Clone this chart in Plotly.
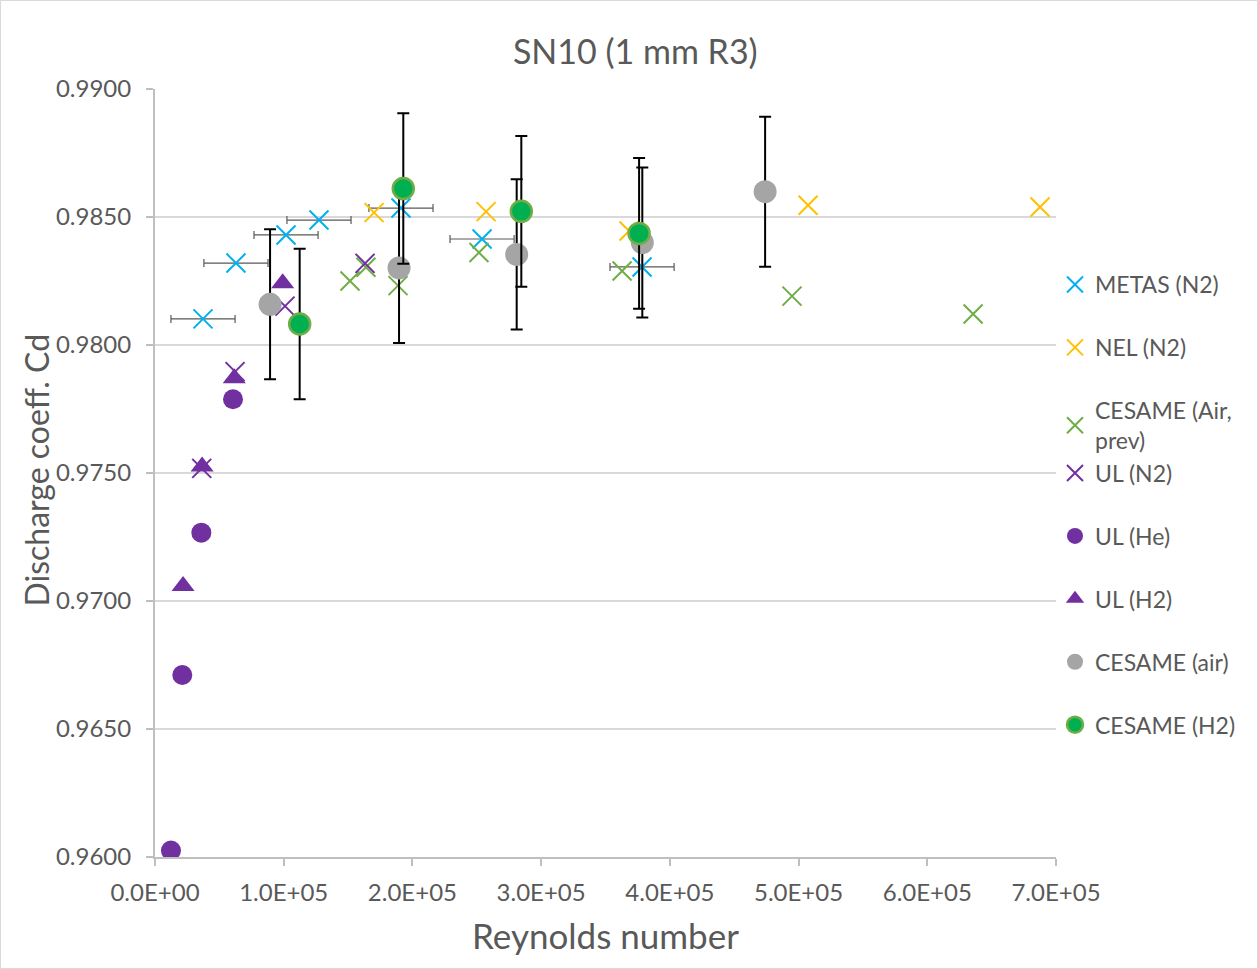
import plotly.graph_objects as go

# ---- data ----
metas_re = [37300, 62900, 101800, 127400, 191100, 254100, 378400]
metas_cd = [0.98102, 0.98320, 0.98430, 0.98488, 0.98535, 0.98414, 0.98305]
metas_re_err = [24900, 24900, 24900, 24900, 24900, 24900, 24900]

nel_re = [170200, 257200, 368300, 507400, 687600]
nel_cd = [0.98517, 0.98521, 0.98445, 0.98546, 0.98539]

cesprev_re = [151500, 163900, 188800, 251700, 362900, 494900, 635600]
cesprev_cd = [0.98250, 0.98304, 0.98232, 0.98361, 0.98289, 0.98191, 0.98121]

uln2_re = [36300, 62200, 101000, 163200]
uln2_cd = [0.97518, 0.97896, 0.98152, 0.98319]

ulhe_re = [12400, 21200, 36000, 60600]
ulhe_cd = [0.96025, 0.96711, 0.97267, 0.97788]

ulh2_re = [21800, 36600, 61600, 99200]
ulh2_cd = [0.97059, 0.97525, 0.97870, 0.98241]

cesair_re = [89400, 189600, 281000, 378600, 474000]
cesair_cd = [0.98159, 0.98301, 0.98354, 0.98400, 0.98599]
cesair_err = [0.00293, 0.00293, 0.00293, 0.00293, 0.00293]

cesh2_re = [112400, 192900, 284600, 376100]
cesh2_cd = [0.98082, 0.98611, 0.98522, 0.98436]
cesh2_err = [0.00294, 0.00294, 0.00294, 0.00294]

x_tickvals = [0, 100000, 200000, 300000, 400000, 500000, 600000, 700000]
x_ticktext = ["0.0E+00", "1.0E+05", "2.0E+05", "3.0E+05", "4.0E+05", "5.0E+05", "6.0E+05", "7.0E+05"]

FONT = "Lato"
TXT = "#595959"
TICK = 24
LEG = 23
AX = 35
YAX = 32
TTL = 34

fig = go.Figure()

def xtrace(name, x, y, color, group, err=None):
    kw = {}
    if err is not None:
        kw["error_x"] = dict(type="data", array=err, visible=True, color="#595959", thickness=1.2, width=4)
    fig.add_trace(go.Scatter(
        x=x, y=y, mode="markers", name=name, legendgroup=group,
        marker=dict(symbol="x-thin", size=19, color=color, line=dict(color=color, width=2)),
        **kw))

xtrace("METAS (N2)", metas_re, metas_cd, "#00B0F0", "g1", metas_re_err)
xtrace("NEL (N2)", nel_re, nel_cd, "#FFC000", "g2")
xtrace("CESAME (Air,<br>prev)", cesprev_re, cesprev_cd, "#70AD47", "g3")
xtrace("UL (N2)", uln2_re, uln2_cd, "#7030A0", "g3")

fig.add_trace(go.Scatter(
    x=ulhe_re, y=ulhe_cd, mode="markers", name="UL (He)", legendgroup="g5",
    marker=dict(symbol="circle", size=20, color="#7030A0")))
fig.add_trace(go.Scatter(
    x=ulh2_re, y=ulh2_cd, mode="markers", name="UL (H2)", legendgroup="g6",
    marker=dict(symbol="triangle-up", size=20, color="#7030A0")))
fig.add_trace(go.Scatter(
    x=cesair_re, y=cesair_cd, mode="markers", name="CESAME (air)", legendgroup="g7",
    error_y=dict(type="data", array=cesair_err, visible=True, color="#000000", thickness=2, width=6),
    marker=dict(symbol="circle", size=23, color="#A5A5A5")))
fig.add_trace(go.Scatter(
    x=cesh2_re, y=cesh2_cd, mode="markers", name="CESAME (H2)", legendgroup="g8",
    error_y=dict(type="data", array=cesh2_err, visible=True, color="#000000", thickness=2, width=6),
    marker=dict(symbol="circle", size=21, color="#00B050", line=dict(color="#70AD47", width=2.5))))

L, R, T, B = 155, 202, 89, 112
W, H = 1258, 969
pw, ph = W - L - R, H - T - B

fig.update_layout(
    width=W, height=H,
    margin=dict(l=L, r=R, t=T, b=B, autoexpand=False),
    paper_bgcolor="white", plot_bgcolor="white",
    font=dict(family=FONT, color=TXT, size=LEG),
    title=dict(text="SN10 (1 mm R3)", x=0.505, xref="container", xanchor="center",
               y=1 - 52 / H, yref="container", yanchor="middle",
               font=dict(family=FONT, size=TTL, color=TXT)),
    showlegend=True,
    legend=dict(x=(1055 - L) / pw, xanchor="left", y=1 - (263 - T) / ph, yanchor="top",
                font=dict(family=FONT, size=LEG, color=TXT),
                tracegroupgap=30, itemwidth=30, bgcolor="rgba(0,0,0,0)"),
    xaxis=dict(range=[0, 700000], tickvals=x_tickvals, ticktext=x_ticktext,
               showgrid=False, zeroline=False, showline=True, linecolor="#BFBFBF", linewidth=2,
               ticks="outside", ticklen=7, tickcolor="#BFBFBF", tickwidth=2,
               ticklabelstandoff=6,
               tickfont=dict(family=FONT, size=TICK, color=TXT),
               title=dict(text="Reynolds number", font=dict(family=FONT, size=AX, color=TXT), standoff=20)),
    yaxis=dict(range=[0.96, 0.99], dtick=0.005, tickformat=".4f",
               showgrid=True, gridcolor="#D9D9D9", gridwidth=2, zeroline=False,
               showline=True, linecolor="#BFBFBF", linewidth=2,
               ticks="outside", ticklen=7, tickcolor="#BFBFBF", tickwidth=2,
               ticklabelstandoff=10,
               tickfont=dict(family=FONT, size=TICK, color=TXT)),
)

# y-axis title placed as in the reference
fig.add_annotation(text="Discharge coeff. Cd", xref="paper", yref="paper",
                   x=(36 - L) / pw, y=(H - B - 470.5) / ph, xanchor="center", yanchor="middle",
                   textangle=-90, showarrow=False, font=dict(family=FONT, size=YAX, color=TXT))

# chart-area border
fig.add_shape(type="rect", xref="paper", yref="paper",
              x0=(0.5 - L) / pw, x1=(W - 0.5 - L) / pw,
              y0=1 + (T - 0.5) / ph, y1=(H - B - (H - 0.5)) / ph,
              line=dict(color="#D9D9D9", width=1), layer="below")

fig.write_html("out.html")
